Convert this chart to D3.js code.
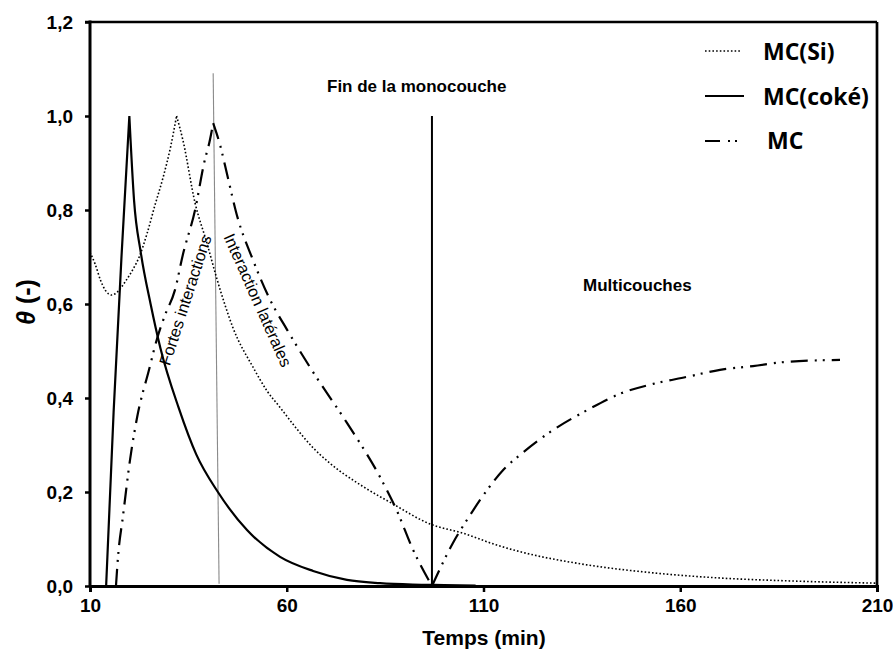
<!DOCTYPE html>
<html><head><meta charset="utf-8">
<script src="https://cdn.jsdelivr.net/npm/d3@7"></script>
<style>body{margin:0;background:#fff} svg{display:block}</style>
</head><body><svg id="c" width="893" height="655"></svg>
<script>
// ---- data ----
const siTime  = [10, 11.3, 12.7, 14, 15.5, 17, 19, 21, 22.5, 24.5, 26.5, 28.6, 30.5, 32, 33.6, 36.7, 39.7, 42.2, 44.3, 46.3, 51.4, 55, 58.3, 62, 66.7, 71, 79.5, 86.7, 96.4, 104.9, 113.4, 119.3, 136.3, 153.1, 170.1, 187.1, 210];
const siTheta = [0.71, 0.685, 0.65, 0.628, 0.619, 0.626, 0.648, 0.675, 0.70, 0.75, 0.81, 0.87, 0.935, 1.0, 0.949, 0.815, 0.73, 0.655, 0.598, 0.55, 0.466, 0.415, 0.38, 0.34, 0.294, 0.261, 0.211, 0.176, 0.132, 0.112, 0.087, 0.073, 0.045, 0.028, 0.017, 0.011, 0.006];
const siCusps = [32];

const cokeTime  = [14.1, 16, 18, 20, 21.2, 22.9, 25.4, 27.9, 32.5, 37, 42.5, 49.9, 58.3, 66.7, 75.3, 83.7, 92, 100, 108];
const cokeTheta = [0, 0.37, 0.70, 1.0, 0.82, 0.71, 0.60, 0.506, 0.38, 0.28, 0.2, 0.119, 0.062, 0.032, 0.013, 0.006, 0.003, 0.002, 0.001];
const cokeCusps = [20];

const mcTime  = [16.6, 17.1, 18.4, 20.2, 22, 25, 27, 29, 31.6, 33.6, 36.7, 39, 40.5, 41.3, 43, 45, 47.3, 51.4, 55.7, 60.1, 66.7, 75.3, 83.7, 88, 92.1, 96.9, 102.2, 106.6, 110.9, 115, 119.3, 127.7, 136.3, 144.7, 153.1, 161.7, 170.1, 178.5, 187.1, 200.6];
const mcTheta = [0, 0.06, 0.15, 0.27, 0.36, 0.46, 0.525, 0.575, 0.63, 0.705, 0.80, 0.90, 0.95, 0.985, 0.94, 0.87, 0.79, 0.694, 0.61, 0.545, 0.455, 0.347, 0.232, 0.16, 0.077, 0, 0.091, 0.151, 0.204, 0.247, 0.279, 0.332, 0.374, 0.409, 0.43, 0.445, 0.46, 0.468, 0.477, 0.481];
const mcCusps = [41.3, 96.9];

const monoEndTime  = [96.9, 96.9];
const monoEndTheta = [0, 1.0];
const sepTime  = [41.3, 42.8];
const sepTheta = [1.091, 0.005];

const xTicks = [10, 60, 110, 160, 210];
const yTicks = [0, 0.2, 0.4, 0.6, 0.8, 1.0, 1.2];
const seriesNames = ["MC(Si)", "MC(coké)", "MC"];

// ---- drawing ----
const svg = d3.select("#c");
const x = d3.scaleLinear().domain([10, 210]).range([90, 877]);
const y = d3.scaleLinear().domain([0, 1.2]).range([586, 22]);
const FONT = "'Liberation Sans', Arial, sans-serif";

function drawSeries(times, vals, cusps, style) {
  const pts = times.map((t, i) => [t, vals[i]]);
  const segs = [];
  let cur = [];
  pts.forEach(p => {
    cur.push(p);
    if (cusps.includes(p[0])) { segs.push(cur); cur = [p]; }
  });
  if (cur.length > 1) segs.push(cur);
  const line = d3.line().x(d => x(d[0])).y(d => y(d[1])).curve(d3.curveMonotoneX);
  const dstr = segs.map(s => line(s)).join("");
  svg.append("path").attr("d", dstr).attr("fill", "none")
    .attr("stroke", "#000").attr("stroke-width", style.w)
    .attr("stroke-dasharray", style.dash || null);
}

// separator (thin gray) line
svg.append("line")
  .attr("x1", x(sepTime[0])).attr("y1", y(sepTheta[0]))
  .attr("x2", x(sepTime[1])).attr("y2", y(sepTheta[1]))
  .attr("stroke", "#8a8a8a").attr("stroke-width", 1.1);

drawSeries(siTime, siTheta, siCusps, {w: 1.6, dash: "1.6,2.1"});
drawSeries(cokeTime, cokeTheta, cokeCusps, {w: 2.2});
drawSeries(mcTime, mcTheta, mcCusps, {w: 2.2, dash: "17,7,2,6,2,7"});

// end of monolayer marker
svg.append("line")
  .attr("x1", x(monoEndTime[0])).attr("y1", y(monoEndTheta[0]))
  .attr("x2", x(monoEndTime[1])).attr("y2", y(monoEndTheta[1]))
  .attr("stroke", "#000").attr("stroke-width", 2);

// frame
svg.append("line").attr("x1", 85).attr("x2", 877).attr("y1", y(1.2)).attr("y2", y(1.2)).attr("stroke", "#000").attr("stroke-width", 2.7);
svg.append("line").attr("x1", 877).attr("x2", 877).attr("y1", y(1.2)).attr("y2", 586).attr("stroke", "#000").attr("stroke-width", 2.7);

// axes
const yAxis = d3.axisLeft(y).tickValues(yTicks).tickSize(5).tickPadding(12)
  .tickFormat(d => d.toFixed(1).replace(".", ","));
const gy = svg.append("g").attr("transform", "translate(90,0)").call(yAxis);
const xAxis = d3.axisBottom(x).tickValues(xTicks).tickSize(6).tickPadding(12)
  .tickFormat(d3.format("d"));
const gx = svg.append("g").attr("transform", "translate(0,586)").call(xAxis);
[gx, gy].forEach(g => {
  g.select(".domain").attr("stroke-width", 3);
  g.selectAll(".tick line").attr("stroke-width", 2.5);
  g.selectAll("text").attr("font-family", FONT).attr("font-weight", "bold")
    .attr("font-size", 19).attr("fill", "#000");
});
gy.select(".domain").attr("d", "M90,586V20.6").attr("transform", "translate(-90,0)");
gx.selectAll("text").attr("dy", "0.71em").attr("y", 13);

// axis titles
svg.append("text").attr("x", 484).attr("y", 645).attr("text-anchor", "middle")
  .attr("font-family", FONT).attr("font-weight", "bold").attr("font-size", 21)
  .text("Temps (min)");
const yt = svg.append("text").attr("transform", "translate(35,302) rotate(-90)")
  .attr("text-anchor", "middle").attr("font-family", FONT).attr("font-weight", "bold").attr("font-size", 25);
yt.append("tspan").attr("font-style", "italic").text("θ");
yt.append("tspan").text(" (-)");

// annotations
svg.append("text").attr("x", 327).attr("y", 92).attr("font-family", FONT)
  .attr("font-weight", "bold").attr("font-size", 17).text("Fin de la monocouche");
svg.append("text").attr("x", 583).attr("y", 291).attr("font-family", FONT)
  .attr("font-weight", "bold").attr("font-size", 17).text("Multicouches");
svg.append("text").attr("transform", "translate(185,300) rotate(-72)")
  .attr("text-anchor", "middle").attr("dominant-baseline", "central")
  .attr("font-family", FONT).attr("font-size", 16.5).attr("font-weight", 500).text("Fortes interactions");
svg.append("text").attr("transform", "translate(258,300) rotate(66)")
  .attr("text-anchor", "middle").attr("dominant-baseline", "central")
  .attr("font-family", FONT).attr("font-size", 16.5).text("Interaction latérales");

// legend
const legStyles = [{w: 1.6, dash: "1.6,2.1", x2: 741, tx: 763, ly: 51, ty: 60},
                   {w: 2.2, dash: null, x2: 744, tx: 763, ly: 96, ty: 105},
                   {w: 2.2, dash: "15,8,2,5,2,20", x2: 741, tx: 767, ly: 141, ty: 149}];
seriesNames.forEach((n, i) => {
  const s = legStyles[i];
  svg.append("line").attr("x1", 705).attr("x2", s.x2).attr("y1", s.ly).attr("y2", s.ly)
    .attr("stroke", "#000").attr("stroke-width", s.w).attr("stroke-dasharray", s.dash);
  svg.append("text").attr("x", s.tx).attr("y", s.ty).attr("font-family", "'Open Sans', sans-serif")
    .attr("font-weight", "bold").attr("font-size", 23).text(n);
});
</script></body></html>
